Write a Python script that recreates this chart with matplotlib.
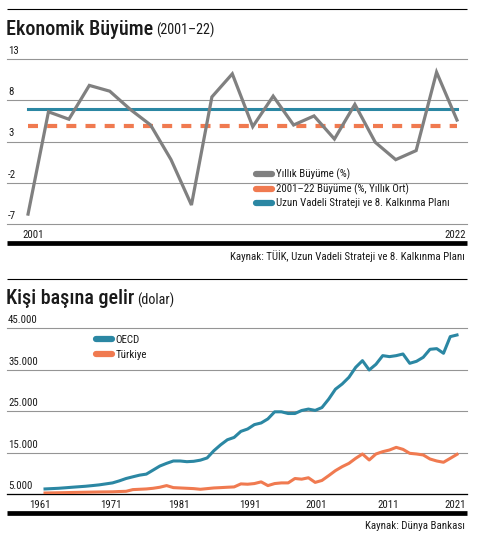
import matplotlib
matplotlib.use('Agg')
import matplotlib.pyplot as plt
from matplotlib.lines import Line2D
from matplotlib import font_manager

# ---------------- data ----------------
growth_years = list(range(2001, 2023))
growth = [-5.8, 6.6, 5.7, 9.8, 9.1, 6.9, 5.0, 0.8, -4.7, 8.4, 11.2, 4.8,
          8.5, 5.0, 6.1, 3.3, 7.5, 2.9, 0.8, 1.9, 11.4, 5.6]
growth_avg = 4.9
plan_target = 7.0
growth_yticks = [-7, -2, 3, 8, 13]
growth_xlabels = [2001, 2022]
growth_labels = ["Yıllık Büyüme (%)", "2001–22 Büyüme (%, Yıllık Ort)",
                 "Uzun Vadeli Strateji ve 8. Kalkınma Planı"]

inc_years = list(range(1961, 2023))
oecd = [6220, 6300, 6380, 6500, 6630, 6750, 6870, 7030, 7200, 7440,
        7680, 8170, 8740, 9150, 9550, 9800, 10770, 11750, 12400, 12970,
        12970, 12800, 12890, 13170, 13700, 15450, 16870, 18090, 18660, 20120,
        20690, 21750, 22150, 23130, 24840, 24840, 24430, 24430, 25160, 25500,
        25180, 25870, 27900, 30300, 31560, 33170, 35580, 37190, 34940, 36310,
        38400, 38160, 38400, 38800, 36550, 37030, 38000, 39930, 40090, 38970,
        42990, 43390]
turkey = [5240, 5270, 5300, 5330, 5370, 5400, 5430, 5460, 5490, 5510,
          5530, 5600, 5650, 6060, 6140, 6220, 6380, 6630, 7030, 6540,
          6460, 6380, 6300, 6140, 6300, 6460, 6540, 6630, 6710, 7440,
          7360, 7520, 7930, 7030, 7520, 7680, 7680, 8740, 8580, 8920,
          7800, 8270, 9430, 10640, 11600, 12400, 13610, 14660, 13210, 14660,
          15220, 15620, 16260, 15780, 14820, 14660, 14420, 13450, 12970, 12660,
          13610, 14580]
inc_yticks = [5000, 15000, 25000, 35000, 45000]
inc_xlabels = [1961, 1971, 1981, 1991, 2001, 2011, 2021]
inc_labels = ["OECD", "Türkiye"]

# ---------------- fonts ----------------
COND = ('condensed', 'semi-condensed', 'extra-condensed', 'ultra-condensed')
cands = {}
for f in font_manager.fontManager.ttflist:
    if f.stretch in COND or 'Narrow' in f.name or 'Condensed' in f.name:
        cands.setdefault(f.name, set()).add(f.stretch)
pref = ['Roboto Condensed', 'Open Sans Condensed', 'Noto Sans Condensed', 'Noto Sans',
        'Roboto', 'Open Sans', 'Liberation Sans Narrow', 'DejaVu Sans Condensed',
        'DejaVu Sans']
FONT, STRETCH = None, 'normal'
for p in pref:
    if p in cands:
        FONT = p
        st = cands[p]
        for s in ('semi-condensed', 'condensed', 'extra-condensed'):
            if s in st:
                STRETCH = s
                break
        break
if FONT is None and cands:
    FONT = sorted(cands)[0]
    st = [s for s in cands[FONT] if s in COND]
    STRETCH = st[0] if st else 'normal'
if FONT is None:
    names = {f.name for f in font_manager.fontManager.ttflist}
    FONT = 'Roboto' if 'Roboto' in names else 'DejaVu Sans'
plt.rcParams['font.family'] = [FONT, 'DejaVu Sans']
plt.rcParams['font.stretch'] = STRETCH
NARROW = STRETCH != 'normal' or 'Narrow' in FONT or 'Condensed' in FONT
FS = 7.8 if NARROW else 6.8

GRAY = '#808080'
ORANGE = '#f07a50'
BLUE = '#2b87a3'
GRID = '#959595'
TXT = '#1a1a1a'

W, H = 479, 539
fig = plt.figure(figsize=(W / 100, H / 100), dpi=100)


def fx(px):
    return px / W


def fy(py):
    return 1 - py / H


def add_ax(left, top, right, bottom):
    return fig.add_axes([fx(left), fy(bottom), (right - left) / W, (bottom - top) / H])


def hline(py, lw, color='black'):
    fig.add_artist(Line2D([fx(7), fx(467)], [fy(py), fy(py)], lw=lw, color=color,
                          transform=fig.transFigure, solid_capstyle='butt'))


def title(py, big, small):
    t1 = fig.text(fx(6), fy(py), big, fontsize=14.5 if NARROW else 12.5,
                  fontweight='medium', color=TXT, va='baseline')
    fig.canvas.draw()
    bb = t1.get_window_extent()
    fig.text((bb.x1 + 3) / W, fy(py), small, fontsize=10.2 if NARROW else 9,
             color=TXT, va='baseline')


def style_ax(ax, yticks, fmt, bottom_dark=False):
    for s in ax.spines.values():
        s.set_visible(False)
    ax.set_yticks(yticks)
    ax.set_yticklabels([])
    ax.set_xticks([])
    ax.tick_params(length=0)
    ax.grid(axis='y', color=GRID, lw=0.8)
    for gl in ax.get_ygridlines():
        gl.set_clip_on(False)
    for v in yticks:
        ax.annotate(fmt(v), xy=(0, v), xycoords=('axes fraction', 'data'),
                    xytext=(1, 8), textcoords='offset pixels', ha='left', va='center',
                    fontsize=FS, color=TXT)
    if bottom_dark:
        ax.axhline(yticks[0], color='black', lw=0.9, clip_on=False)


# ---------------- top chart ----------------
hline(9, 0.8)
title(34.5, "Ekonomik Büyüme", "(2001–22)")
ax1 = add_ax(7, 59, 467, 224)
ax1.set_xlim(1999.97, 2022.49)
ax1.set_ylim(-7, 13)
style_ax(ax1, growth_yticks, lambda v: f"{v}")
ax1.plot(growth_years, growth, color=GRAY, lw=2.3, solid_joinstyle='miter', zorder=3)
ax1.plot([growth_years[0], growth_years[-1]], [growth_avg, growth_avg], color=ORANGE,
         lw=3.0, dashes=(2.4, 2.2), dash_capstyle='butt', zorder=2)
ax1.plot([growth_years[0], growth_years[-1]], [plan_target, plan_target], color=BLUE,
         lw=2.2, zorder=2)
for yr, off in zip(growth_xlabels, (5, -2)):
    ax1.annotate(str(yr), xy=(yr, 0), xycoords=('data', 'axes fraction'),
                 xytext=(off, -11), textcoords='offset pixels', ha='center', va='center',
                 fontsize=FS, color=TXT)
h = [Line2D([], [], color=c, lw=4.5, solid_capstyle='round') for c in (GRAY, ORANGE, BLUE)]
fig.legend(h, growth_labels, loc='upper left', bbox_to_anchor=(fx(256), fy(168.5)),
           frameon=False, fontsize=FS, handlelength=1.5, handletextpad=0.3,
           labelspacing=0.32, borderpad=0, borderaxespad=0, labelcolor=TXT)
hline(243, 3.4)
fig.text(fx(465), fy(256), "Kaynak: TÜİK, Uzun Vadeli Strateji ve 8. Kalkınma Planı",
         ha='right', va='center', fontsize=FS, color=TXT)

# ---------------- bottom chart ----------------
hline(279, 0.8)
title(304.5, "Kişi başına gelir", "(dolar)")
ax2 = add_ax(7, 328.3, 467, 494)
ax2.set_xlim(1955.37, 2023.48)
ax2.set_ylim(5000, 45000)
style_ax(ax2, inc_yticks, lambda v: f"{v:,}".replace(',', '.'), bottom_dark=True)
ax2.plot(inc_years, oecd, color=BLUE, lw=2.2, zorder=3)
ax2.plot(inc_years, turkey, color=ORANGE, lw=2.2, zorder=3)
for yr, off in zip(inc_xlabels, (-5, -2, -1, 2, 1, 5, 5)):
    ax2.annotate(str(yr), xy=(yr, 0), xycoords=('data', 'axes fraction'),
                 xytext=(off, -11), textcoords='offset pixels', ha='center', va='center',
                 fontsize=FS, color=TXT)
h2 = [Line2D([], [], color=c, lw=4.5, solid_capstyle='round') for c in (BLUE, ORANGE)]
fig.legend(h2, inc_labels, loc='upper left', bbox_to_anchor=(fx(96), fy(335)),
           frameon=False, fontsize=FS, handlelength=1.5, handletextpad=0.3,
           labelspacing=0.42, borderpad=0, borderaxespad=0, labelcolor=TXT)
hline(513, 3.4)
fig.text(fx(465), fy(526), "Kaynak: Dünya Bankası", ha='right', va='center',
         fontsize=FS, color=TXT)

fig.savefig('out.png', dpi=100)
